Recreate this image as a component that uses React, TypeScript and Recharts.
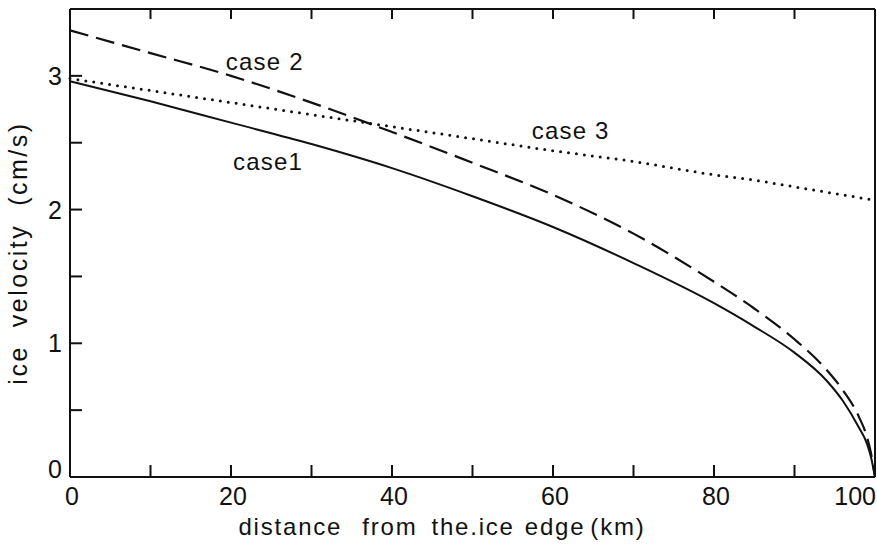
import { Label, Line, LineChart, ReferenceDot, XAxis, YAxis } from 'recharts'

// distance from the ice edge (km)
const distance = [0, 10, 20, 30, 40, 50, 60, 70, 80, 85, 90, 94, 96, 98, 99, 99.5, 100]
// ice velocity (cm/s)
const case1 = [2.96, 2.81, 2.65, 2.49, 2.31, 2.1, 1.87, 1.6, 1.3, 1.125, 0.93, 0.72, 0.57, 0.37, 0.25, 0.15, 0]
const case2 = [3.34, 3.17, 3.0, 2.8, 2.58, 2.35, 2.11, 1.82, 1.46, 1.26, 1.03, 0.8, 0.65, 0.45, 0.3, 0.18, 0]
const case3 = [2.98, 2.89, 2.8, 2.71, 2.62, 2.53, 2.44, 2.36, 2.26, 2.22, 2.17, 2.13, 2.11, 2.09, 2.08, 2.075, 2.07]

const xTicks = [0, 10, 20, 30, 40, 50, 60, 70, 80, 90, 100]
const yTicks = [0, 0.5, 1, 1.5, 2, 2.5, 3, 3.5]

const curveLabels = [
  { name: 'case 2', x: 24.2, y: 3.11 },
  { name: 'case 3', x: 62.2, y: 2.59 },
  { name: 'case1', x: 24.6, y: 2.36 },
]

const data = distance.map((d, i) => ({ d, c1: case1[i], c2: case2[i], c3: case3[i] }))

const FONT = '"Liberation Sans", Arial, sans-serif'
const INK = '#111'
const TICK = 12

const BottomTick = ({ x, y, payload }: any) => {
  const v = payload.value
  return (
    <g>
      <line x1={x} y1={y} x2={x} y2={y - TICK} stroke={INK} strokeWidth={2} />
      {v % 20 === 0 && (
        <text x={v === 100 ? x + 1 : x + 2} y={y + 9} dy="0.75em" textAnchor={v === 100 ? 'end' : 'middle'} fontSize={25} fontFamily={FONT} fill={INK}>
          {v}
        </text>
      )}
    </g>
  )
}

const TopTick = ({ x, y }: any) => <line x1={x} y1={y} x2={x} y2={y + TICK - 2} stroke={INK} strokeWidth={2} />

const LeftTick = ({ x, y, payload }: any) => {
  const v = payload.value
  return (
    <g>
      <line x1={x} y1={y} x2={x + TICK} y2={y} stroke={INK} strokeWidth={2} />
      {Number.isInteger(v) && v < 3.5 && (
        <text x={x - 8} y={v === 0 ? y - 8 : y} dy="0.36em" textAnchor="end" fontSize={25} fontFamily={FONT} fill={INK}>
          {v}
        </text>
      )}
    </g>
  )
}

const RightTick = ({ x, y }: any) => <line x1={x} y1={y} x2={x - TICK} y2={y} stroke={INK} strokeWidth={2} />

const CaseText = (name: string) => (p: any) => (
  <text x={p.cx} y={p.cy} dy="0.36em" textAnchor="middle" fontSize={24} letterSpacing={1.2} fontFamily={FONT} fill={INK}>
    {name}
  </text>
)

const axisCommon = {
  type: 'number' as const,
  interval: 0 as const,
  tickSize: 0,
  tickMargin: 0,
  axisLine: { stroke: INK, strokeWidth: 2 },
  tickLine: false,
}

export default function App() {
  return (
    <div style={{ position: 'absolute', left: 0, top: 0, background: '#fff' }}>
      <LineChart width={877} height={546} data={data} margin={{ top: 8, right: 1, bottom: 68, left: 69 }}>
        <XAxis {...axisCommon} dataKey="d" domain={[0, 100]} ticks={xTicks} height={1} tick={<BottomTick />}>
          <Label
            content={({ viewBox }: any) => (
              <text x={viewBox.x + 372} y={viewBox.y + 58} textAnchor="middle" fontSize={24} letterSpacing={1.8} fontFamily={FONT} fill={INK}>
                <tspan>distance</tspan>
                <tspan dx={20}>from</tspan>
                <tspan dx={14}>the.ice</tspan>
                <tspan dx={10}>edge</tspan>
                <tspan dx={5}>(km)</tspan>
              </text>
            )}
          />
        </XAxis>
        <XAxis {...axisCommon} xAxisId="top" orientation="top" dataKey="d" domain={[0, 100]} ticks={xTicks} height={1} tick={<TopTick />} />
        <YAxis {...axisCommon} domain={[0, 3.5]} ticks={yTicks} width={1} tick={<LeftTick />}>
          <Label
            content={({ viewBox }: any) => (
              <text
                x={18}
                y={viewBox.y + 244}
                transform={`rotate(-90 18 ${viewBox.y + 244})`}
                dy="0.36em"
                textAnchor="middle"
                fontSize={25}
                letterSpacing={2.5}
                fontFamily={FONT}
                fill={INK}
              >
                <tspan>ice</tspan>
                <tspan dx={18}>velocity</tspan>
                <tspan dx={18}>(cm/s)</tspan>
              </text>
            )}
          />
        </YAxis>
        <YAxis {...axisCommon} yAxisId="right" orientation="right" domain={[0, 3.5]} ticks={yTicks} width={1} tick={<RightTick />} />
        <Line type="monotone" dataKey="c1" stroke={INK} strokeWidth={2} dot={false} isAnimationActive={false} />
        <Line type="monotone" dataKey="c2" stroke={INK} strokeWidth={2.2} strokeDasharray="19 8" dot={false} isAnimationActive={false} />
        <Line type="monotone" dataKey="c3" stroke={INK} strokeWidth={3} strokeDasharray="0 8" strokeLinecap="round" dot={false} isAnimationActive={false} />
        {curveLabels.map((c) => (
          <ReferenceDot key={c.name} x={c.x} y={c.y} r={0} shape={CaseText(c.name)} />
        ))}
      </LineChart>
    </div>
  )
}
